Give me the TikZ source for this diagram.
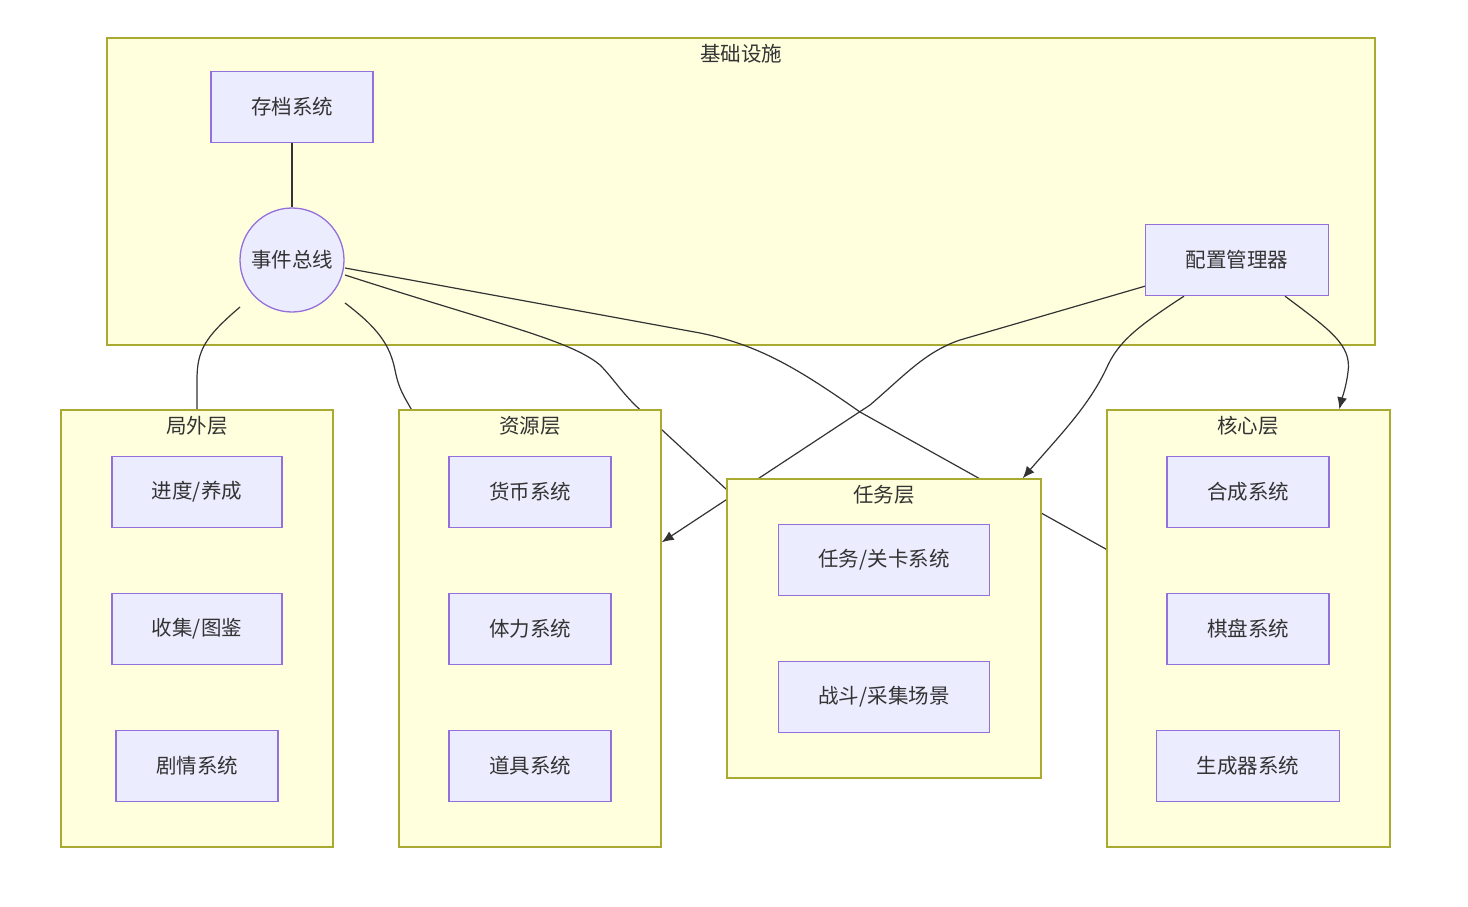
\documentclass[tikz,border=0pt]{standalone}
\usepackage{fontspec}
\setmainfont{Noto Sans CJK SC}
\usetikzlibrary{arrows.meta,calc}
\definecolor{grpfill}{HTML}{FFFFDE}
\definecolor{grpline}{HTML}{AAAA33}
\definecolor{boxfill}{HTML}{ECECFF}
\definecolor{boxline}{HTML}{9370DB}
\definecolor{ink}{HTML}{333333}
\pgfdeclarelayer{back}
\pgfdeclarelayer{mid}
\pgfsetlayers{back,mid,main}

\begin{document}
\begin{tikzpicture}[x=1pt,y=-1pt,font=\fontsize{20.5}{24}\selectfont,text=ink,
        grp/.style={draw=grpline, fill=grpfill, line width=1.4pt, inner sep=0},
        box/.style={draw=boxline, fill=boxfill, line width=1.3pt, minimum height=71pt, inner xsep=40pt, inner ysep=0},
        link/.style={draw=ink, line width=1.2pt},
        tip/.style={-{Latex[length=12pt,width=10pt]}}]
        \useasboundingbox (0,0) rectangle (1468,907);

        \begin{pgfonlayer}{back}
        \node[grp, minimum width=1268pt, minimum height=307pt] (infra) at (741,191.5) {};
        \node (infra-t) at (741,54) {基础设施};
        \end{pgfonlayer}

        \node[box] (save) at (292,107) {存档系统};
        \node (bus) at (292,260) [circle, draw=boxline, fill=boxfill, line width=1.3pt, minimum size=104pt, inner sep=0] {事件总线};
        \node[box] (cfg) at (1237,260) {配置管理器};
        \draw[link] (save) -- (bus);

        \node[grp, minimum width=272pt, minimum height=437pt] (outer) at (197,628.5) {};
        \node (outer-t) at (197,426) {局外层};
        \foreach \t [count=\i] in {{进度/养成},{收集/图鉴},{剧情系统}} \node[box] (o\i) at (197,355+137*\i) {\t};

        \node[grp, minimum width=262pt, minimum height=437pt] (res) at (530,628.5) {};
        \node (res-t) at (530,426) {资源层};
        \foreach \t [count=\i] in {{货币系统},{体力系统},{道具系统}} \node[box] (r\i) at (530,355+137*\i) {\t};

        \node[grp, minimum width=314pt, minimum height=299pt] (tasks) at (884,628.5) {};
        \node (tasks-t) at (884,495) {任务层};
        \foreach \t [count=\i] in {{任务/关卡系统},{战斗/采集场景}} \node[box] (t\i) at (884,423+137*\i) {\t};

        \node[grp, minimum width=283pt, minimum height=437pt] (core) at (1248.5,628.5) {};
        \node (core-t) at (1248,426) {核心层};
        \foreach \t [count=\i] in {{合成系统},{棋盘系统},{生成器系统}} \node[box] (c\i) at (1248,355+137*\i) {\t};

        \begin{pgfonlayer}{mid}
        % bus to the layers
        \draw[link] ($(bus)+(-52,47)$) .. controls (205,337) and (197,350) .. (197,380) -- (outer.north);
        \draw[link] ($(bus)+(53,43)$) .. controls (378,328) and (390,345) .. (395,370) .. controls (399,390) and (404,396) .. ($(res.north west)+(13,0)$);
        \draw[link] ($(bus)+(53,15)$) .. controls (500,325) and (570,340) .. (600,365) .. controls (612,377) and (620,390) .. (635,405) -- ($(tasks.north west)+(0,11)$);
        \draw[link] ($(bus)+(53,8)$) -- (700,333) .. controls (760,345) and (800,370) .. (860,412) -- ($(core.north west)+(0,140)$);

        % config
        \draw[link, tip] ($(cfg.south west)+(0,-10)$) -- (960,340) .. controls (925,352) and (905,375) .. (870,405) -- ($(res.north east)+(0,133)$);
        \draw[link, tip] ($(cfg.south)+(-53,0)$) .. controls (1140,325) and (1120,340) .. (1108,365) .. controls (1090,405) and (1060,435) .. ($(tasks.north east)+(-19,0)$);
        \draw[link, tip] ($(cfg.south)+(48,0)$) .. controls (1330,330) and (1352,345) .. (1348,372) .. controls (1346,388) and (1342,398) .. ($(core.north west)+(233,0)$);
        \end{pgfonlayer}
\end{tikzpicture}
\end{document}
